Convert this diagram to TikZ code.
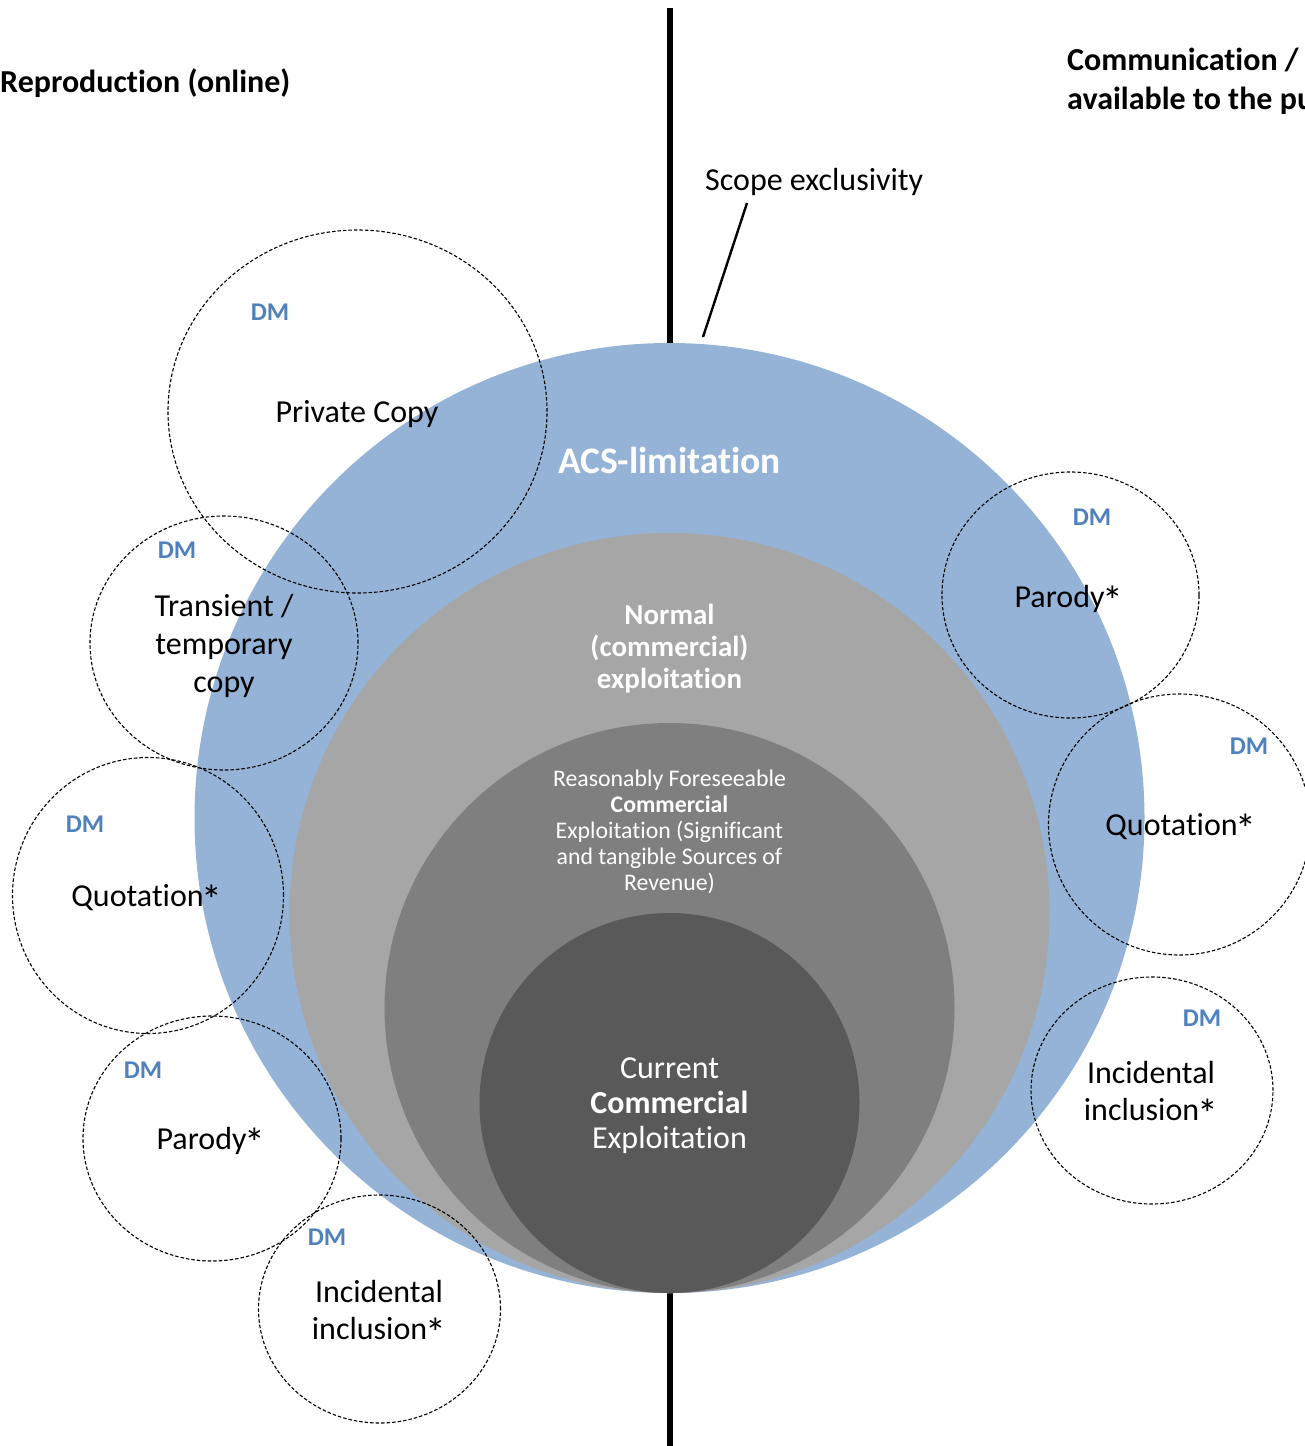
\documentclass[tikz,border=0pt]{standalone}
\usepackage{fontspec}
\setmainfont{Carlito}[Ligatures=NoCommon]
\usetikzlibrary{shapes.geometric}

\definecolor{acsblue}{HTML}{95B3D7}
\definecolor{normalgray}{HTML}{A6A6A6}
\definecolor{foreseegray}{HTML}{7F7F7F}
\definecolor{currentgray}{HTML}{595959}
\definecolor{dmblue}{HTML}{4F81BD}

% enlarged asterisk marking the exceptions
\newcommand{\exmark}{\kern-0.06em\raisebox{-0.26em}{\scalebox{1.3}{*}}}

\tikzset{
  zone/.style={circle, inner sep=0pt, outer sep=0pt, draw=none},
  exception/.style={ellipse, draw=black, line width=1.1pt, dash pattern=on 3.5pt off 2pt,
                    inner sep=0pt, outer sep=0pt},
  lbl/.style={font=\fontsize{32}{37}\selectfont, inner sep=0pt, anchor=base, align=center},
  dmtag/.style={font=\bfseries\fontsize{25.5}{30}\selectfont, text=dmblue, inner sep=0pt, anchor=base},
  heading/.style={font=\bfseries\fontsize{32}{38.6}\selectfont, inner sep=0pt, anchor=base west, align=left},
  whitetxt/.style={text=white, inner sep=0pt, anchor=base, align=center}
}

\begin{document}
\begin{tikzpicture}[x=1pt, y=-1pt]
\useasboundingbox (0,0) rectangle (1305,1446);
\fill[white] (0,0) rectangle (1305,1446);

% dividing axis between the two rights
\coordinate (axtop) at (669.5,8);
\coordinate (axbot) at (669.5,1446);
\draw[line width=6pt] (axtop) -- (axbot);

% nested zones, all touching at the bottom
\node[zone, fill=acsblue,     minimum size=950pt] (acs)      at (669.5,818)  {};
\node[zone, fill=normalgray,  minimum size=760pt] (normal)   at (669.5,913)  {};
\node[zone, fill=foreseegray, minimum size=570pt] (foresee)  at (669.5,1008) {};
\node[zone, fill=currentgray, minimum size=380pt] (current)  at (669.5,1103) {};

% exception circles
\node[exception, minimum width=379pt, minimum height=363pt] (privcopy) at (357.5,411.5) {};
\node[exception, minimum width=268pt, minimum height=254pt] (transient) at (224,643) {};
\node[exception, minimum width=271pt, minimum height=276pt] (quoteL) at (148,895.5) {};
\node[exception, minimum width=258pt, minimum height=245pt] (parodyL) at (212,1138.5) {};
\node[exception, minimum width=242pt, minimum height=228pt] (inclL) at (379.5,1309) {};
\node[exception, minimum width=257pt, minimum height=246pt] (parodyR) at (1070.5,595) {};
\node[exception, minimum width=262pt, minimum height=261pt] (quoteR) at (1179.5,824.5) {};
\node[exception, minimum width=242pt, minimum height=227pt] (inclR) at (1152,1090.5) {};

% headings (multi-line nodes are placed by the baseline of their last line)
\node[heading] (repro) at (0,92) {Reproduction (online)};
\node[heading] (commun) at (1067,109) {Communication /\\available to the public};

% scope label with its leader line
\node[lbl, anchor=base west] (scope) at (705,190) {Scope exclusivity};
\coordinate (leadA) at (747,203);
\coordinate (leadB) at (703,337);
\draw[line width=2.4pt] (leadA) -- (leadB);

% zone labels
\node[whitetxt, font=\bfseries\fontsize{37.5}{44}\selectfont] (acslbl) at (669.5,473) {ACS-limitation};
\node[whitetxt, font=\bfseries\fontsize{29}{32}\selectfont] (normallbl) at (669.5,688)
  {Normal\\(commercial)\\exploitation};
\node[whitetxt, font=\fontsize{23.8}{26}\selectfont] (foreseelbl) at (669.5,890)
  {Reasonably Foreseeable\\\textbf{Commercial}\\Exploitation (Significant\\and tangible Sources of\\Revenue)};
\node[whitetxt, font=\fontsize{32}{35}\selectfont] (currentlbl) at (669.5,1148)
  {Current\\\textbf{Commercial}\\Exploitation};

% exception labels
\node[lbl] (privcopylbl) at (357,422) {Private Copy};
\node[dmtag] (dm1) at (270,320) {DM};
\node[lbl, font=\fontsize{32}{38}\selectfont] (transientlbl) at (224,692) {Transient /\\temporary\\copy};
\node[dmtag] (dm2) at (177,558) {DM};
\node[lbl] (quoteLlbl) at (147,906) {Quotation\exmark};
\node[dmtag] (dm3) at (85,832) {DM};
\node[lbl] (parodyLlbl) at (211,1149) {Parody\exmark};
\node[dmtag] (dm4) at (143,1078) {DM};
\node[lbl] (inclLlbl) at (379,1339) {Incidental\\inclusion\exmark};
\node[dmtag] (dm5) at (327,1245) {DM};
\node[lbl] (parodyRlbl) at (1069,607) {Parody\exmark};
\node[dmtag] (dm6) at (1092,525) {DM};
\node[lbl] (quoteRlbl) at (1181,835) {Quotation\exmark};
\node[dmtag] (dm7) at (1249,754) {DM};
\node[lbl] (inclRlbl) at (1151,1120) {Incidental\\inclusion\exmark};
\node[dmtag] (dm8) at (1202,1026) {DM};
\end{tikzpicture}
\end{document}
